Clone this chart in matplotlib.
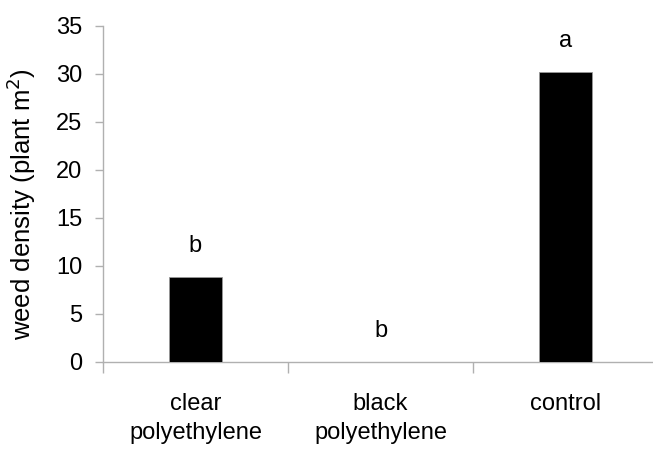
import matplotlib
matplotlib.use("Agg")
import matplotlib.pyplot as plt

categories = ["clear\npolyethylene", "black\npolyethylene", "control"]
density = [8.9, 0.0, 30.2]
letters = ["b", "b", "a"]
yticks = [0, 5, 10, 15, 20, 25, 30, 35]

plt.rcParams['font.family'] = ['Liberation Sans', 'DejaVu Sans']

fig = plt.figure(figsize=(6.53, 4.54), dpi=100)
ax = fig.add_axes([103/653, 1-362/454, 555/653, 336/454])

x = list(range(len(categories)))
ax.bar(x, density, width=0.29, color='black', edgecolor='#999999', linewidth=0.6, zorder=3)

for xi, v, l in zip(x, density, letters):
    ax.text(xi, v + 3.2, l, ha='center', va='center', fontsize=17, color='black')

ax.set_xlim(-0.5, 2.5)
ax.set_ylim(0, 35)
ax.set_yticks(yticks)
ax.set_yticklabels([str(t) for t in yticks], fontsize=17)
ax.set_xticks(x)
ax.set_xticklabels(categories, fontsize=17, linespacing=1.45)
ax.tick_params(axis='x', which='major', length=0, pad=22)
ax.set_xticks([-0.5, 0.5, 1.5, 2.5], minor=True)
ax.tick_params(axis='x', which='minor', length=8, color='#b0b0b0', width=1)
ax.tick_params(axis='y', length=6, color='#b0b0b0', width=1, pad=9)

for s in ['top', 'right']:
    ax.spines[s].set_visible(False)
for s in ['left', 'bottom']:
    ax.spines[s].set_color('#b0b0b0')
    ax.spines[s].set_linewidth(1)

ax.set_ylabel("weed density (plant m$^2$)", fontsize=18.5)
ax.yaxis.set_label_coords(-0.118, 0.47)

fig.savefig("out.png", dpi=100)
